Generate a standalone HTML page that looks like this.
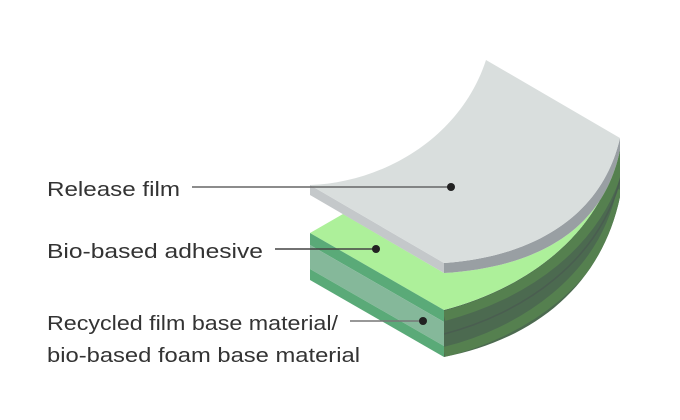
<!DOCTYPE html>
<html><head><meta charset="utf-8"><style>
html,body{margin:0;padding:0;background:#fff;}
svg{display:block;}
text{font-family:"Liberation Sans",sans-serif;font-size:20px;fill:#333;}
</style></head><body>
<svg width="680" height="420" viewBox="0 0 680 420" xmlns="http://www.w3.org/2000/svg">
<defs>
<clipPath id="side"><path d="M444,310 C520,290 600,240 620,147 L620,197 C600,290 530,340 444,357 Z"/></clipPath>
</defs>
<!-- stack curved side -->
<path d="M444,310 C520,290 600,240 620,147 L620,197 C600,290 530,340 444,357 Z" fill="#4c6a50"/>
<g clip-path="url(#side)" fill="none">
<path d="M444,316 C520,296 602,246 622,153" stroke="#55804f" stroke-width="10"/>
<path d="M444,352 C522,333 603,280 622,190" stroke="#55804f" stroke-width="10"/>
<path d="M444,334 C521,314 602,262 622,172" stroke="#4a5e50" stroke-width="1.5"/>
</g>
<!-- green top -->
<path d="M310,233 L444,310 C520,290 600,240 620,147 L620,150 C602,238 525,268 444,273 L343,214 Z" fill="#adf09a"/>
<!-- left face stripes -->
<path d="M310,233 L444,310 L444,322 L310,245 Z" fill="#5aaa78"/>
<path d="M310,245 L444,322 L444,346 L310,269 Z" fill="#85b89a"/>
<path d="M310,269 L444,346 L444,357 L310,280 Z" fill="#5aaa78"/>
<!-- release film -->
<path d="M444,263 C520,258 600,225 620,138 L620,150 C602,238 525,268 444,273 Z" fill="#999fa3"/>
<path d="M310,185 L444,263 L444,273 L310,195 Z" fill="#c4c8ca"/>
<path d="M310,185 C380,183 460,140 486,60 L620,138 C600,225 520,258 444,263 Z" fill="#d9dedd"/>
<!-- leaders -->
<line x1="192" y1="187" x2="450" y2="187" stroke="#666" stroke-width="1.5"/>
<circle cx="451" cy="187" r="4" fill="#222"/>
<line x1="275" y1="249" x2="375" y2="249" stroke="#444" stroke-width="1.5"/>
<circle cx="376" cy="249" r="4" fill="#222"/>
<line x1="350" y1="321" x2="422" y2="321" stroke="#777" stroke-width="1.5"/>
<circle cx="423" cy="321" r="4" fill="#222"/>
<text x="47" y="196" textLength="133" lengthAdjust="spacingAndGlyphs">Release film</text>
<text x="47" y="258" textLength="216" lengthAdjust="spacingAndGlyphs">Bio-based adhesive</text>
<text x="47" y="330" textLength="291" lengthAdjust="spacingAndGlyphs">Recycled film base material/</text>
<text x="47" y="362" textLength="313" lengthAdjust="spacingAndGlyphs">bio-based foam base material</text>
</svg>
</body></html>
